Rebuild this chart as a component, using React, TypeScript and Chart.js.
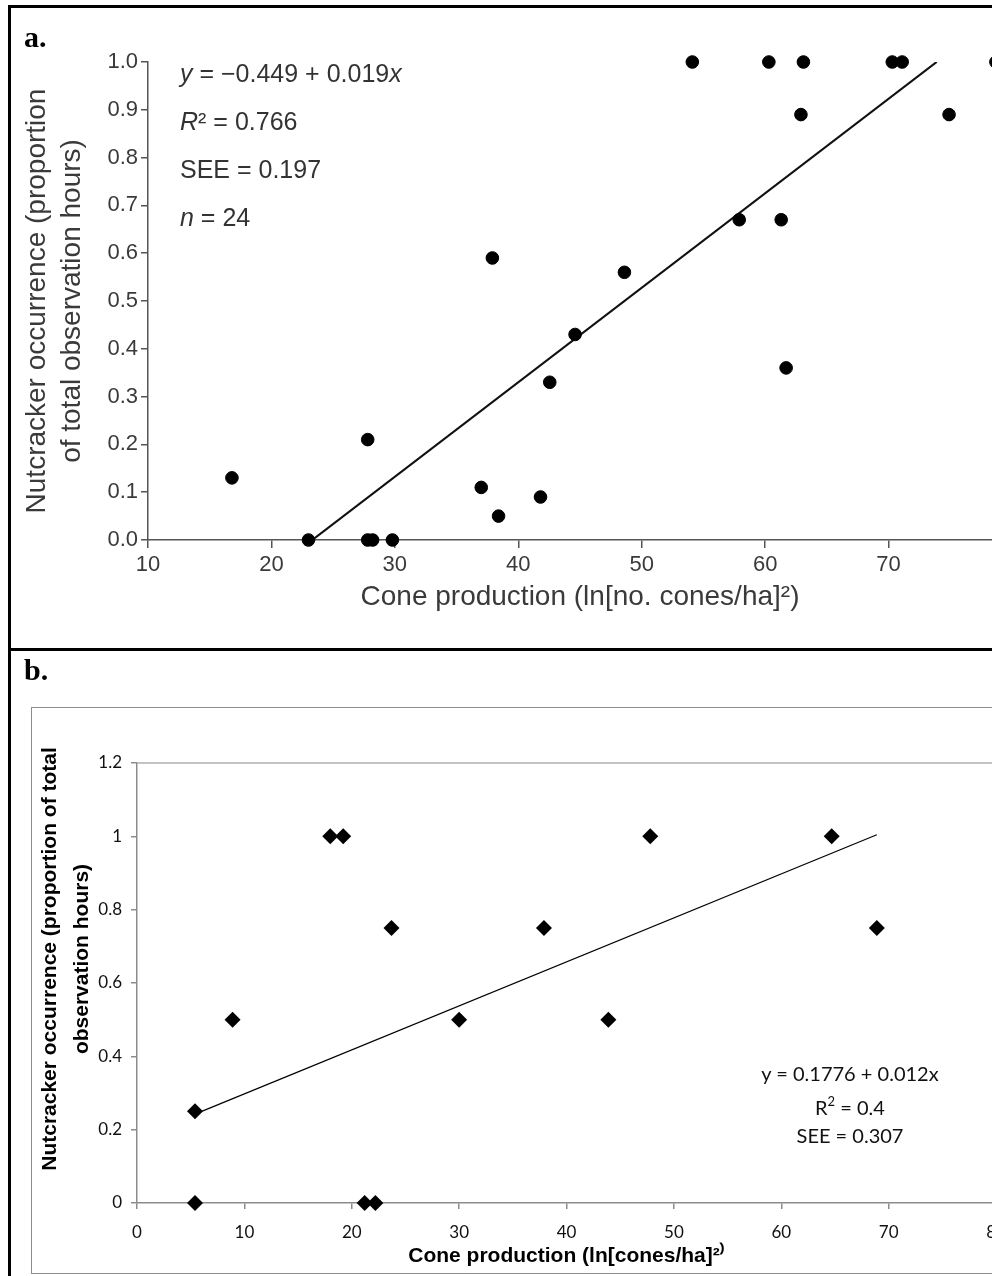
import React, { useEffect, useRef } from 'react';
import { Chart, registerables } from 'chart.js';

Chart.register(...registerables);

// ---------- Panel a data ----------
const conesA = [16.8, 23.0, 27.8, 27.8, 28.2, 29.8, 37.0, 38.4, 37.9, 41.8, 42.55, 44.6, 48.6, 54.1, 57.9, 60.3, 61.3, 61.7, 62.9, 63.1, 70.3, 71.1, 74.9, 78.7];
const occA = [0.13, 0.0, 0.21, 0.0, 0.0, 0.0, 0.11, 0.05, 0.59, 0.09, 0.33, 0.43, 0.56, 1.0, 0.67, 1.0, 0.67, 0.36, 0.89, 1.0, 1.0, 1.0, 0.89, 1.0];
const fitXA = [23.3, 73.9];
const fitYA = [0.0, 1.0];
const xTicksA = [10, 20, 30, 40, 50, 60, 70, 80];
const yTickLabelsA = ['0.0', '0.1', '0.2', '0.3', '0.4', '0.5', '0.6', '0.7', '0.8', '0.9', '1.0'];
const xTitleA = 'Cone production (ln[no. cones/ha]\u00B2)';
const yTitleA = ['Nutcracker occurrence (proportion', 'of total observation hours)'];

// ---------- Panel b data ----------
const conesB = [5.4, 5.4, 8.9, 18.0, 19.2, 21.2, 22.2, 23.7, 30.0, 37.9, 43.9, 47.8, 64.7, 68.9];
const occB = [0.0, 0.25, 0.5, 1.0, 1.0, 0.0, 0.0, 0.75, 0.5, 0.75, 0.5, 1.0, 1.0, 0.75];
const fitXB = [5.4, 68.9];
const fitYB = [0.2424, 1.0044];
const xTicksB = [0, 10, 20, 30, 40, 50, 60, 70, 80];
const yTicksB = [0, 0.2, 0.4, 0.6, 0.8, 1.0, 1.2];
const yTickLabelsB = ['0', '0.2', '0.4', '0.6', '0.8', '1', '1.2'];
const xTitleB = 'Cone production (ln[cones/ha]\u00B2\u207E';
const yTitleB = ['Nutcracker occurrence (proportion of total', 'observation hours)'];

const toPts = (xs: number[], ys: number[]) => xs.map((x, i) => ({ x, y: ys[i] }));

const SANS = '"Liberation Sans", Arial, Helvetica, sans-serif';
const CAL = 'Lato, "Open Sans", sans-serif';

function makeChartA(canvas: HTMLCanvasElement) {
  const textColor = '#3a3a3a';
  const axisColor = '#555555';
  return new Chart(canvas, {
    type: 'scatter',
    data: {
      datasets: [
        {
          data: toPts(conesA, occA),
          backgroundColor: '#000',
          borderColor: '#000',
          pointRadius: 6.3,
          pointHoverRadius: 6.3,
          clip: false as any,
          order: 0,
        },
        {
          data: toPts(fitXA, fitYA),
          showLine: true,
          borderColor: '#111',
          borderWidth: 2.2,
          pointRadius: 0,
          order: 1,
        } as any,
      ],
    },
    options: {
      responsive: false,
      animation: false,
      devicePixelRatio: 1,
      layout: { padding: { top: 62, right: 88, left: 0, bottom: 0 } },
      plugins: { legend: { display: false }, tooltip: { enabled: false } },
      scales: {
        x: {
          type: 'linear',
          min: xTicksA[0],
          max: xTicksA[xTicksA.length - 1],
          afterFit: (s: any) => { s.height = 108; },
          afterBuildTicks: (s: any) => { s.ticks = xTicksA.map((v) => ({ value: v })); },
          ticks: {
            color: textColor,
            font: { family: SANS, size: 22 },
            padding: 4,
            maxRotation: 0,
            autoSkip: false,
          },
          grid: { drawOnChartArea: false, drawTicks: true, tickLength: 8, color: axisColor, lineWidth: 1.5 },
          border: { display: true, color: axisColor, width: 1.5 },
          title: {
            display: true,
            text: xTitleA,
            color: textColor,
            font: { family: SANS, size: 28, lineHeight: 1.2 },
            padding: { top: 0, bottom: 34 },
          },
        },
        y: {
          type: 'linear',
          min: 0,
          max: 1,
          afterFit: (s: any) => { s.width = 148; },
          afterBuildTicks: (s: any) => { s.ticks = yTickLabelsA.map((_, i) => ({ value: i / 10 })); },
          ticks: {
            color: textColor,
            font: { family: SANS, size: 22 },
            padding: 3,
            autoSkip: false,
            callback: (_v: any, i: number) => yTickLabelsA[i],
          },
          grid: { drawOnChartArea: false, drawTicks: true, tickLength: 7, color: axisColor, lineWidth: 1.5 },
          border: { display: true, color: axisColor, width: 1.5 },
          title: {
            display: true,
            text: yTitleA,
            color: textColor,
            font: { family: SANS, size: 28, lineHeight: 1.25 },
            padding: { top: 19.5, bottom: 0 },
          },
        },
      },
    } as any,
  });
}

const plotAreaB = {
  id: 'plotAreaB',
  beforeDatasetsDraw(chart: any) {
    const { ctx, chartArea: a } = chart;
    ctx.save();
    ctx.strokeStyle = '#b0b0b0';
    ctx.lineWidth = 1.5;
    ctx.beginPath();
    ctx.moveTo(a.left, a.top);
    ctx.lineTo(a.right, a.top);
    ctx.lineTo(a.right, a.bottom);
    ctx.stroke();
    ctx.restore();
  },
  afterDraw(chart: any) {
    const { ctx, chartArea: a } = chart;
    ctx.save();
    ctx.translate(a.left - 87, (a.top + a.bottom) / 2 - 24);
    ctx.rotate(-Math.PI / 2);
    ctx.font = `bold 21px ${SANS}`;
    ctx.fillStyle = '#000';
    ctx.textAlign = 'center';
    ctx.textBaseline = 'middle';
    ctx.fillText(yTitleB[0], 0, 0);
    ctx.fillText(yTitleB[1], 0, 32);
    ctx.restore();
  },
};

function makeChartB(canvas: HTMLCanvasElement) {
  const axisColor = '#8c8c8c';
  return new Chart(canvas, {
    type: 'scatter',
    data: {
      datasets: [
        {
          data: toPts(conesB, occB),
          backgroundColor: '#000',
          borderColor: '#000',
          pointStyle: 'rectRot',
          pointRadius: 8,
          pointHoverRadius: 8,
          borderWidth: 0,
          clip: false as any,
          order: 0,
        },
        {
          data: toPts(fitXB, fitYB),
          showLine: true,
          borderColor: '#000',
          borderWidth: 1.2,
          pointRadius: 0,
          order: 1,
        } as any,
      ],
    },
    plugins: [plotAreaB],
    options: {
      responsive: false,
      animation: false,
      devicePixelRatio: 1,
      layout: { padding: { top: 112, right: 104, left: 0, bottom: 0 } },
      plugins: { legend: { display: false }, tooltip: { enabled: false } },
      scales: {
        x: {
          type: 'linear',
          min: xTicksB[0],
          max: xTicksB[xTicksB.length - 1],
          afterFit: (s: any) => { s.height = 73; },
          afterBuildTicks: (s: any) => { s.ticks = xTicksB.map((v) => ({ value: v })); },
          ticks: {
            color: '#111',
            font: { family: CAL, size: 17 },
            padding: 13,
            maxRotation: 0,
            autoSkip: false,
            callback: (v: any) => String(v),
          },
          grid: { drawOnChartArea: false, drawTicks: true, tickLength: 6, color: axisColor, lineWidth: 1.5 },
          border: { display: true, color: axisColor, width: 1.5 },
          title: {
            display: true,
            text: xTitleB,
            color: '#000',
            font: { family: SANS, size: 21, weight: 'bold', lineHeight: 1.2 },
            padding: { top: 0, bottom: 7 },
          },
        },
        y: {
          type: 'linear',
          min: 0,
          max: 1.2,
          afterFit: (s: any) => { s.width = 137; },
          afterBuildTicks: (s: any) => { s.ticks = yTicksB.map((v) => ({ value: v })); },
          ticks: {
            color: '#111',
            font: { family: CAL, size: 17 },
            padding: 9,
            autoSkip: false,
            callback: (_v: any, i: number) => yTickLabelsB[i],
          },
          grid: { drawOnChartArea: false, drawTicks: true, tickLength: 6, color: axisColor, lineWidth: 1.5 },
          border: { display: true, color: axisColor, width: 1.5 },
        },
      },
    } as any,
  });
}

export default function App() {
  const refA = useRef<HTMLCanvasElement | null>(null);
  const refB = useRef<HTMLCanvasElement | null>(null);

  useEffect(() => {
    const ca = refA.current ? makeChartA(refA.current) : null;
    const cb = refB.current ? makeChartB(refB.current) : null;
    return () => {
      ca && ca.destroy();
      cb && cb.destroy();
    };
  }, []);

  const abs = (s: React.CSSProperties): React.CSSProperties => ({ position: 'absolute', ...s });
  const eqB: React.CSSProperties = { left: 700, width: 300, textAlign: 'center', font: `20px ${CAL}`, color: '#111', lineHeight: '30px', whiteSpace: 'nowrap' };

  return (
    <div style={{ position: 'fixed', left: 0, top: 0, width: 992, height: 1276, overflow: 'hidden', background: '#fff' }}>
      {/* panel b Excel chart-area frame */}
      <div style={abs({ left: 31, top: 707, width: 1200, height: 567, border: '1.5px solid #8c8c8c', boxSizing: 'border-box' })} />
      <canvas ref={refA} width={1100} height={648} style={abs({ left: 0, top: 0, width: 1100, height: 648 })} />
      <canvas ref={refB} width={1100} height={625} style={abs({ left: 0, top: 651, width: 1100, height: 625 })} />

      {/* outer figure border and divider */}
      <div style={abs({ left: 8, top: 5, width: 1300, height: 1400, border: '3px solid #000', boxSizing: 'border-box', pointerEvents: 'none' })} />
      <div style={abs({ left: 8, top: 648, width: 1300, height: 3, background: '#000' })} />

      {/* panel labels */}
      <div style={abs({ left: 24, top: 22, font: 'bold 30px "Liberation Serif", "Times New Roman", serif', lineHeight: '30px' })}>a.</div>
      <div style={abs({ left: 24, top: 655, font: 'bold 30px "Liberation Serif", "Times New Roman", serif', lineHeight: '30px' })}>b.</div>

      {/* panel a statistics */}
      <div style={abs({ left: 180, top: 49, font: `25px ${SANS}`, color: '#333', lineHeight: '48px', whiteSpace: 'nowrap' })}>
        <div><i>y</i> = {'\u2212'}0.449 + 0.019<i>x</i></div>
        <div><i>R</i>{'\u00B2'} = 0.766</div>
        <div>SEE = 0.197</div>
        <div><i>n</i> = 24</div>
      </div>

      {/* panel b statistics */}
      <div style={abs({ ...eqB, top: 1058 })}>y = 0.1776 + 0.012x</div>
      <div style={abs({ ...eqB, top: 1092 })}>
        R<span style={{ fontSize: 13, position: 'relative', top: -9, lineHeight: 0 }}>2</span> = 0.4
      </div>
      <div style={abs({ ...eqB, top: 1120 })}>SEE = 0.307</div>
    </div>
  );
}
